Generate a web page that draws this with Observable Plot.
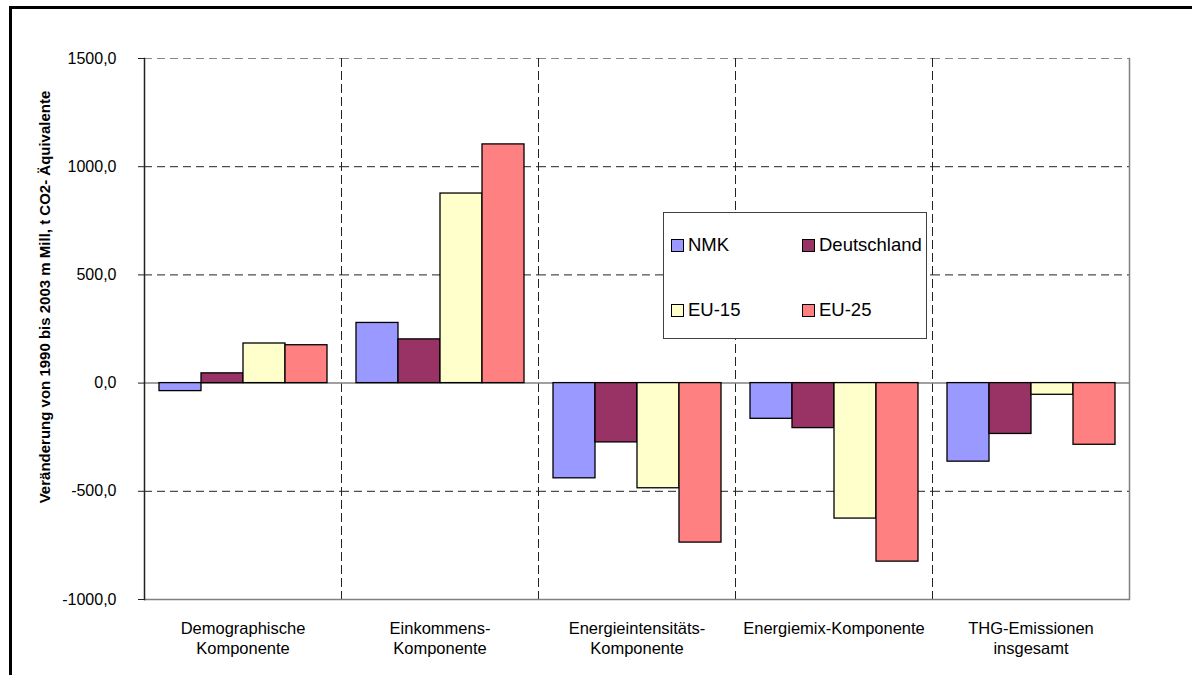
<!DOCTYPE html>
<html><head><meta charset="utf-8">
<script src="https://cdn.jsdelivr.net/npm/d3@7"></script>
<script src="https://cdn.jsdelivr.net/npm/@observablehq/plot@0.6"></script>
<style>
html,body{margin:0;padding:0;background:#fff;overflow:hidden;width:1192px;height:675px;}
#wrap{position:relative;width:1192px;height:675px;overflow:hidden;}
#border{position:absolute;left:9px;top:6px;width:1300px;height:800px;border-left:3px solid #000;border-top:3px solid #000;}
#chart{position:absolute;left:0;top:0;}
#legend{position:absolute;left:663px;top:212px;width:262px;height:125px;background:#fff;border:1px solid #404040;font-family:"Liberation Sans",Arial,sans-serif;font-size:18.5px;color:#000;}
.item{position:absolute;display:flex;align-items:center;height:22px;line-height:22px;}
.sw{width:11px;height:11px;border:1px solid #000;margin-right:4px;box-sizing:content-box;}
</style>
</head><body>
<div id="wrap"><div id="border"></div><div id="chart"></div><div id="legend"></div></div>
<script>
const categories = ["Demographische\nKomponente", "Einkommens-\nKomponente", "Energieintensitäts-\nKomponente", "Energiemix-Komponente", "THG-Emissionen\ninsgesamt"];
const seriesNames = ["NMK", "Deutschland", "EU-15", "EU-25"];
const seriesColors = ["#9999FF", "#993366", "#FFFFCC", "#FF8080"];
const nmk = [-37, 278, -440, -165, -363];
const deutschland = [45, 202, -274, -208, -235];
const eu15 = [183, 876, -486, -626, -54];
const eu25 = [175, 1103, -737, -825, -285];
const yTicks = [-1000, -500, 0, 500, 1000, 1500];
const gridTicks = [-500, 500, 1000];
const yTitle = "Veränderung von 1990 bis 2003 m Mill, t CO2- Äquivalente";

const seriesValues = [nmk, deutschland, eu15, eu25];
const rows = [];
categories.forEach((c, i) => seriesNames.forEach((s, j) => rows.push({cat: c, series: s, value: seriesValues[j][i]})));

const font = '"Liberation Sans", Arial, sans-serif';
const chart = Plot.plot({
  width: 1192, height: 675,
  marginLeft: 143, marginRight: 62, marginTop: 58, marginBottom: 76,
  style: {fontFamily: font, fontSize: "16px", color: "#000", background: "transparent", overflow: "visible"},
  fx: {domain: categories, padding: 0, label: null},
  x: {domain: seriesNames, paddingInner: 0, paddingOuter: 0.31, axis: null},
  y: {domain: [-1000, 1500], ticks: yTicks},
  color: {domain: seriesNames, range: seriesColors},
  marks: [
    Plot.ruleY(gridTicks, {stroke: "#222", strokeDasharray: "8,5", strokeWidth: 1}),
    Plot.ruleY([1500], {stroke: "#888", strokeDasharray: "8,5", strokeWidth: 1.2}),
    Plot.frame({anchor: "right", stroke: "#222", strokeDasharray: "8,5", strokeWidth: 1}),
    Plot.ruleY([0], {stroke: "#808080", strokeWidth: 1.5}),
    Plot.barY(rows, {fx: "cat", x: "series", y: "value", fill: "series", stroke: "#000", strokeWidth: 1.3}),
    Plot.ruleY([-1000], {stroke: "#808080", strokeWidth: 1.5}),
    Plot.frame({facet: "super", anchor: "right", stroke: "#808080", strokeWidth: 1.5}),
    Plot.frame({facet: "super", anchor: "left", stroke: "#222", strokeWidth: 1.5}),
    Plot.axisY({ticks: yTicks, tickSize: 6, tickPadding: 22, tickFormat: d => d.toFixed(1).replace(".", ","), label: null, fontSize: 16, stroke: "#222"}),
    Plot.text([yTitle], {facet: "super", frameAnchor: "left", rotate: -90, text: d => d, dx: -99, dy: -32, lineAnchor: "middle", textAnchor: "middle", fontWeight: "bold", fontSize: 15, fill: "#000"}),
    Plot.axisFx({anchor: "bottom", tickSize: 0, tickPadding: 20, lineHeight: 1.21, fontSize: 16.5, label: null})
  ]
});
document.getElementById("chart").appendChild(chart);

const legend = document.getElementById("legend");
const legendPos = [[7, 21], [138, 21], [7, 86], [138, 86]];
seriesNames.forEach((s, i) => {
  const it = document.createElement("div");
  it.className = "item";
  it.style.left = legendPos[i][0] + "px";
  it.style.top = legendPos[i][1] + "px";
  const sw = document.createElement("span");
  sw.className = "sw";
  sw.style.background = seriesColors[i];
  it.appendChild(sw);
  it.appendChild(document.createTextNode(s));
  legend.appendChild(it);
});
</script>
</body></html>
